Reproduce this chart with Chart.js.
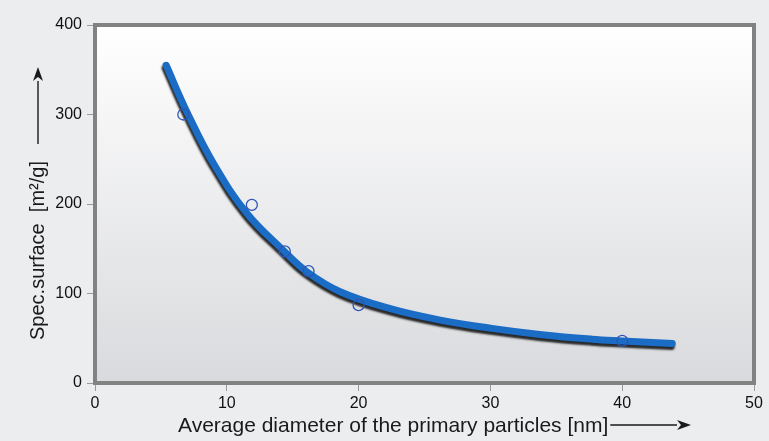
<!DOCTYPE html>
<html>
<head>
  <meta charset="utf-8">
  <title>Spec. surface vs particle diameter</title>
  <script src="https://cdn.jsdelivr.net/npm/chart.js"></script>
  <style>
    html, body { margin: 0; padding: 0; background: #ecedef; }
    #wrap { width: 769px; height: 441px; }
  </style>
</head>
<body>
<div id="wrap"><canvas id="myChart" width="769" height="441"></canvas></div>
<script>
  // fitted curve
  const curveX = [5.4, 7, 9, 11.5, 14.3, 16.1, 18.6, 22.4, 26.3, 30.1, 33.9, 37.7, 40, 43.8];
  const curveY = [355, 302, 245, 190, 148, 124, 102, 83, 70, 61, 54, 49, 47, 44];
  // measured points (open circles)
  const measX = [6.7, 11.9, 14.4, 16.2, 20.0, 40.0];
  const measY = [300, 199, 147, 125, 87, 47];
  const xTicks = [0, 10, 20, 30, 40, 50];
  const yTicks = [0, 100, 200, 300, 400];
  const xTitle = 'Average diameter of the primary particles [nm]';
  const yTitle = 'Spec.surface  [m\u00B2/g]';

  const FONT = "'Liberation Sans', Arial, sans-serif";

  // gradient plot area + frame
  const framePlugin = {
    id: 'frame',
    beforeDatasetsDraw(chart) {
      const { ctx, chartArea: a } = chart;
      ctx.save();
      const g = ctx.createLinearGradient(0, a.top, 0, a.bottom);
      g.addColorStop(0, '#ffffff');
      g.addColorStop(1, '#d9dadd');
      ctx.fillStyle = g;
      ctx.fillRect(a.left, a.top, a.right - a.left, a.bottom - a.top);
      ctx.lineWidth = 4;
      ctx.strokeStyle = '#828282';
      ctx.strokeRect(a.left, a.top, a.right - a.left, a.bottom - a.top);
      ctx.restore();
    },
    // dark shadow under the blue curve
    beforeDatasetDraw(chart, args) {
      if (args.index !== 0) return;
      const ctx = chart.ctx;
      ctx.save();
      ctx.shadowColor = 'rgba(20,20,20,0.9)';
      ctx.shadowOffsetX = -1;
      ctx.shadowOffsetY = 3;
      ctx.shadowBlur = 2;
    },
    afterDatasetDraw(chart, args) {
      if (args.index !== 0) return;
      chart.ctx.restore();
    }
  };

  function arrow(ctx, x1, y1, x2, y2) {
    const ang = Math.atan2(y2 - y1, x2 - x1);
    const hl = 14, hw = 5;
    ctx.beginPath();
    ctx.moveTo(x1, y1);
    ctx.lineTo(x2 - Math.cos(ang) * hl, y2 - Math.sin(ang) * hl);
    ctx.stroke();
    ctx.beginPath();
    ctx.moveTo(x2, y2);
    ctx.lineTo(x2 - Math.cos(ang) * hl - Math.sin(ang) * hw, y2 - Math.sin(ang) * hl + Math.cos(ang) * hw);
    ctx.lineTo(x2 - Math.cos(ang) * (hl - 4), y2 - Math.sin(ang) * (hl - 4));
    ctx.lineTo(x2 - Math.cos(ang) * hl + Math.sin(ang) * hw, y2 - Math.sin(ang) * hl - Math.cos(ang) * hw);
    ctx.closePath();
    ctx.fill();
  }

  // axis titles with arrows
  const titlePlugin = {
    id: 'titles',
    afterDraw(chart) {
      const ctx = chart.ctx;
      ctx.save();
      ctx.fillStyle = '#1a1a1a';
      ctx.strokeStyle = '#1a1a1a';
      ctx.lineWidth = 1.4;
      ctx.font = '21px ' + FONT;
      ctx.textBaseline = 'alphabetic';
      ctx.textAlign = 'left';
      ctx.fillText(xTitle, 178, 432);
      const w = ctx.measureText(xTitle).width;
      arrow(ctx, 178 + w + 2, 425, 691, 425);

      ctx.font = '20px ' + FONT;
      ctx.translate(44, 340);
      ctx.rotate(-Math.PI / 2);
      ctx.fillText(yTitle, 0, 0);
      ctx.setTransform(1, 0, 0, 1, 0, 0);
      arrow(ctx, 38, 144, 38, 67);
      ctx.restore();
    }
  };

  const ctx = document.getElementById('myChart').getContext('2d');
  new Chart(ctx, {
    data: {
      datasets: [{
        type: 'line',
        data: curveX.map((x, i) => ({ x: x, y: curveY[i] })),
        borderColor: '#1a6cc4',
        borderWidth: 7,
        borderCapStyle: 'round',
        pointRadius: 0,
        tension: 0.4,
        order: 2
      }, {
        type: 'scatter',
        data: measX.map((x, i) => ({ x: x, y: measY[i] })),
        pointRadius: 5.5,
        pointBorderWidth: 1.3,
        borderColor: '#2f55b5',
        backgroundColor: 'rgba(0,0,0,0)',
        order: 1
      }]
    },
    options: {
      responsive: false,
      animation: false,
      devicePixelRatio: 1,
      layout: { padding: { left: 0, top: 25, right: 15, bottom: 0 } },
      plugins: { legend: { display: false }, tooltip: { enabled: false } },
      scales: {
        x: {
          type: 'linear', min: 0, max: 50,
          afterBuildTicks: s => { s.ticks = xTicks.map(v => ({ value: v })); },
          afterFit: s => { s.height = 58; },
          border: { display: false },
          grid: { drawOnChartArea: false, tickLength: 8, color: '#9a9a9a' },
          ticks: { font: { family: FONT, size: 16 }, color: '#111', padding: 3, maxRotation: 0 }
        },
        y: {
          min: 0, max: 400,
          afterBuildTicks: s => { s.ticks = yTicks.map(v => ({ value: v })); },
          afterFit: s => { s.width = 95; },
          border: { display: false },
          grid: { drawOnChartArea: false, tickLength: 8, color: '#9a9a9a' },
          ticks: { font: { family: FONT, size: 16 }, color: '#111', padding: 5 }
        }
      }
    },
    plugins: [framePlugin, titlePlugin]
  });
</script>
</body>
</html>
